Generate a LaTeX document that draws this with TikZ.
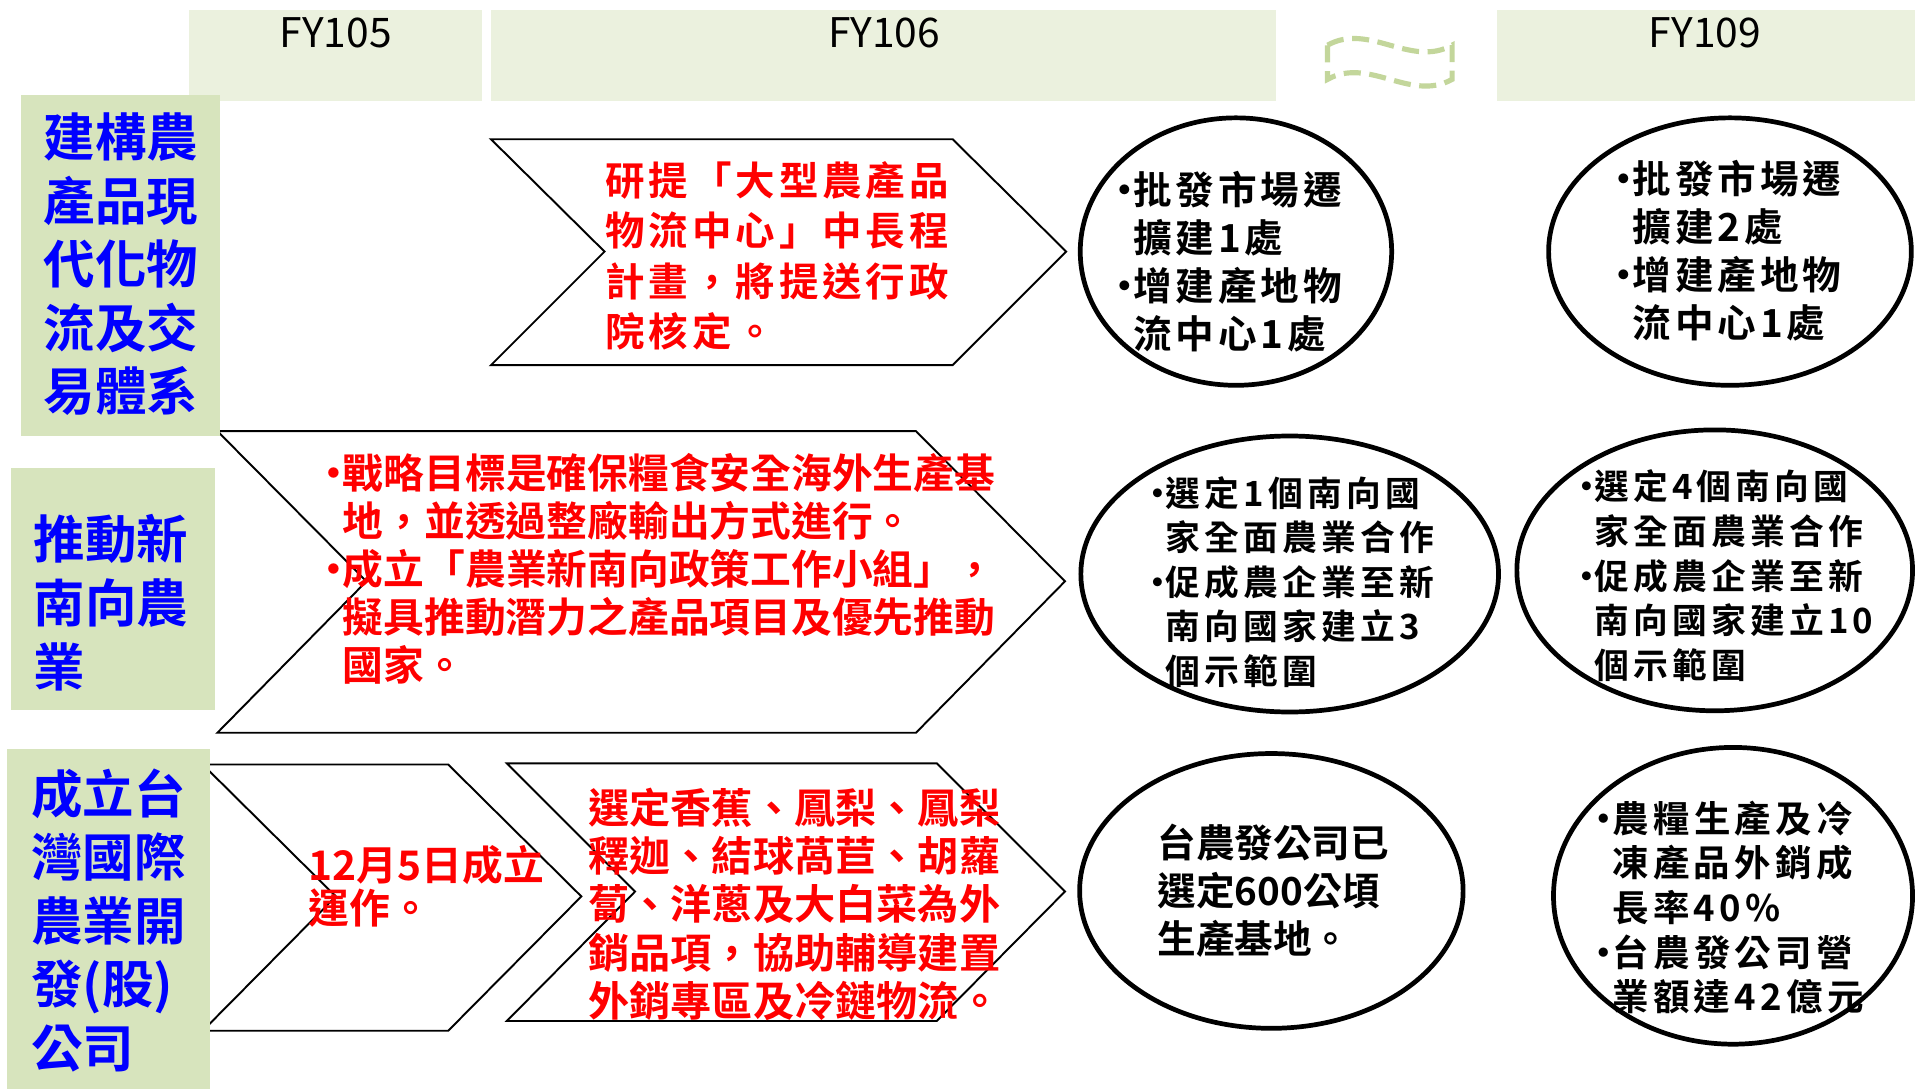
\documentclass[tikz,border=0pt]{standalone}
\usepackage{fontspec}
\setmainfont{Noto Sans CJK TC}[BoldFont={Noto Sans CJK TC Bold}]
\usetikzlibrary{shapes.geometric}

\definecolor{headfill}{HTML}{EBF1DE}
\definecolor{goalfill}{HTML}{D7E4BD}
\definecolor{wavegreen}{HTML}{C3D69B}
\definecolor{goalblue}{HTML}{0000FF}
\definecolor{planred}{HTML}{FF0000}

\newcommand\bul{\makebox[0.45em][c]{•}}
\newcommand\ind{\hspace*{0.45em}}

\tikzset{
  head/.style={fill=headfill,inner sep=0,minimum height=7.5mm},
  year/.style={inner sep=0,font=\fontsize{9.5}{11}\selectfont},
  goal/.style={fill=goalfill,inner sep=0},
  goaltext/.style={text=goalblue,inner sep=0,align=left,anchor=west,
    font=\bfseries\fontsize{12}{14.8}\selectfont},
  chev/.style={draw=black,fill=white,line width=0.45pt},
  plan/.style={text=planred,inner sep=0,align=left,anchor=west},
  target/.style={ellipse,draw=black,fill=white,line width=1.1pt,inner sep=0},
  note/.style={inner sep=0,align=left,anchor=west},
  spaced/.style={font=\bfseries\fontsize{#1}{10.4}\selectfont\addfontfeatures{LetterSpace=12}}
}

\begin{document}
\begin{tikzpicture}[x=0.1mm,y=-0.1mm]
  \useasboundingbox (0,0) rectangle (1568,892);

  %headers
  \node[head,minimum width=24mm] (h105) at (275,45.5) {};
  \node[head,minimum width=64.3mm] (h106) at (723.5,45.5) {};
  \node[head,minimum width=34.2mm] (h109) at (1397,45.5) {};
  \node[year] (y105) at (275,27) {FY105};
  \node[year] (y106) at (724,27) {FY106};
  \node[year] (y109) at (1396,27) {FY109};

  %wave
  \draw[wavegreen,line width=1.2pt,dash pattern=on 1.4mm off 0.7mm]
    (1087,37) .. controls (1121,18) and (1155,56) .. (1189,37) -- (1189,65)
    .. controls (1155,84) and (1121,46) .. (1087,65) -- cycle;

  %chevrons
  \draw[chev] (402,114) -- (780,114) -- (873,206) -- (780,299) -- (402,299) -- (495,206) -- cycle;
  \draw[chev] (178,353) -- (750,353) -- (872,476) -- (750,600) -- (178,600) -- (300,476) -- cycle;
  \draw[chev] (166,626) -- (367,626) -- (476,734) -- (367,844) -- (166,844) -- (275,734) -- cycle;
  \draw[chev] (415,625) -- (767,625) -- (872,730) -- (767,836) -- (415,836) -- (520,730) -- cycle;

  %goals
  \node[goal,minimum width=16.3mm,minimum height=27.9mm] (g1) at (98.5,217.5) {};
  \node[goal,minimum width=16.7mm,minimum height=19.8mm] (g2) at (92.5,482) {};
  \node[goal,minimum width=16.6mm,minimum height=27.9mm] (g3) at (89,752.5) {};
  \node[goaltext] (gt1) at (35,216.5) {建構農\\產品現\\代化物\\流及交\\易體系};
  \node[goaltext] (gt2) at (27,493.5) {推動新\\南向農\\業};
  \node[goaltext] (gt3) at (25,753.5) {成立台\\灣國際\\農業開\\發(股)\\公司};

  %plans
  \node[plan,font=\bfseries\fontsize{9.2}{11.7}\selectfont\addfontfeatures{LetterSpace=10}] (p1) at (495,209.5)
    {研提「大型農產品\\物流中心」中長程\\計畫，將提送行政\\院核定。};
  \node[plan,font=\bfseries\fontsize{9.5}{11.2}\selectfont] (p2) at (265,466)
    {\bul 戰略目標是確保糧食安全海外生產基\\\ind 地，並透過整廠輸出方式進行。\\\bul 成立「農業新南向政策工作小組」，\\\ind 擬具推動潛力之產品項目及優先推動\\\ind 國家。};
  \node[plan,font=\bfseries\fontsize{9.5}{8.5}\selectfont] (p3) at (252,725.5)
    {12月5日成立\\運作。};
  \node[plan,font=\bfseries\fontsize{9.6}{11.2}\selectfont] (p4) at (481,740.5)
    {選定香蕉、鳳梨、鳳梨\\釋迦、結球萵苣、胡蘿\\蔔、洋蔥及大白菜為外\\銷品項，協助輔導建置\\外銷專區及冷鏈物流。};

  %targets
  \node[target,minimum width=25.5mm,minimum height=21.9mm] (t1) at (1012,206) {};
  \node[target,minimum width=29.7mm,minimum height=21.9mm] (t2) at (1416.5,206) {};
  \node[target,minimum width=34.2mm,minimum height=22.6mm] (t3) at (1056,470) {};
  \node[target,minimum width=32.4mm,minimum height=23mm] (t4) at (1404,467) {};
  \node[target,minimum width=31.4mm,minimum height=22.5mm] (t5) at (1041,729.5) {};
  \node[target,minimum width=29.4mm,minimum height=24.3mm] (t6) at (1419,733.5) {};
  \node[note,font=\bfseries\fontsize{9}{11.2}\selectfont\addfontfeatures{LetterSpace=10}] (n1) at (913,214)
    {\bul 批發市場遷\\\ind 擴建1處\\\bul 增建產地物\\\ind 流中心1處};
  \node[note,font=\bfseries\fontsize{9}{11.2}\selectfont\addfontfeatures{LetterSpace=10}] (n2) at (1322,205)
    {\bul 批發市場遷\\\ind 擴建2處\\\bul 增建產地物\\\ind 流中心1處};
  \node[note,spaced=8.1] (n3) at (941,476.5)
    {\bul 選定1個南向國\\\ind 家全面農業合作\\\bul 促成農企業至新\\\ind 南向國家建立3\\\ind 個示範圍};
  \node[note,spaced=8.1] (n4) at (1292,471.5)
    {\bul 選定4個南向國\\\ind 家全面農業合作\\\bul 促成農企業至新\\\ind 南向國家建立10\\\ind 個示範圍};
  \node[note,font=\bfseries\fontsize{9}{11.2}\selectfont] (n5) at (947,729.5)
    {台農發公司已\\選定600公頃\\生產基地。};
  \node[note,spaced=8.5] (n6) at (1306,743)
    {\bul 農糧生產及冷\\\ind 凍產品外銷成\\\ind 長率40\%\\\bul 台農發公司營\\\ind 業額達42億元};
\end{tikzpicture}
\end{document}
